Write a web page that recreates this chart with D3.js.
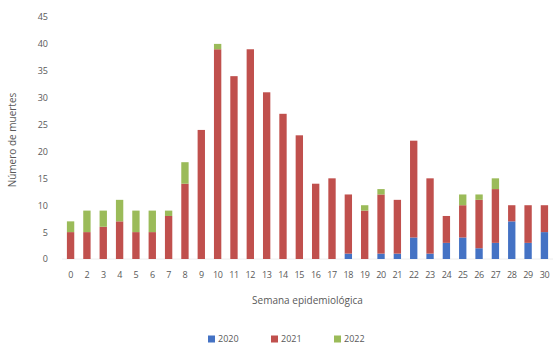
<!DOCTYPE html>
<html>
<head>
<meta charset="utf-8">
<script src="https://cdn.jsdelivr.net/npm/d3@7"></script>
<style>
  body { margin: 0; background: #fff; }
  text { font-family: "Open Sans", "Liberation Sans", sans-serif; fill: #595959; }
</style>
</head>
<body>
<div id="my_dataviz"></div>
<script>
// data
var weeks = ["0","2","3","4","5","6","7","8","9","10","11","12","13","14","15","16","17","18","19","20","21","22","23","24","25","26","27","28","29","30"];
var y2020 = [0,0,0,0,0,0,0,0,0,0,0,0,0,0,0,0,0,1,0,1,1,4,1,3,4,2,3,7,3,5];
var y2021 = [5,5,6,7,5,5,8,14,24,39,34,39,31,27,23,14,15,11,9,11,10,18,14,5,6,9,10,3,7,5];
var y2022 = [2,4,3,4,4,4,1,4,0,1,0,0,0,0,0,0,0,0,1,1,0,0,0,0,2,1,2,0,0,0];
var seriesNames = ["2020","2021","2022"];
var yTicks = [0,5,10,15,20,25,30,35,40,45];

var colors = d3.scaleOrdinal().domain(seriesNames).range(["#4472C4", "#C0504D", "#9BBB59"]);

var margin = {top: 17, right: 2, bottom: 89, left: 62},
    width = 555 - margin.left - margin.right,
    height = 348 - margin.top - margin.bottom;

var svg = d3.select("#my_dataviz")
  .append("svg")
    .attr("width", 555)
    .attr("height", 348)
  .append("g")
    .attr("transform", "translate(" + margin.left + "," + margin.top + ")");

var table = weeks.map(function(w, i) {
  return {week: w, "2020": y2020[i], "2021": y2021[i], "2022": y2022[i]};
});
var stacked = d3.stack().keys(seriesNames)(table);

var x = d3.scaleBand()
  .domain(weeks)
  .range([0, width])
  .paddingInner(0.55)
  .paddingOuter(0.3);

var y = d3.scaleLinear()
  .domain([0, 45])
  .range([height, 0]);

// baseline
svg.append("line")
  .attr("x1", 0).attr("x2", width)
  .attr("y1", y(0)).attr("y2", y(0))
  .attr("stroke", "#eeeeee");

// Y axis
var yaxis = svg.append("g")
  .attr("transform", "translate(-14,0)")
  .call(d3.axisLeft(y).tickValues(yTicks).tickSize(0).tickPadding(0));
yaxis.select(".domain").remove();
yaxis.selectAll("text").style("font-size", "9px").attr("fill", "#595959");

// X axis
var xaxis = svg.append("g")
  .attr("transform", "translate(0," + height + ")")
  .call(d3.axisBottom(x).tickSize(0).tickPadding(13));
xaxis.select(".domain").remove();
xaxis.selectAll("text").style("font-size", "9px").attr("fill", "#595959").attr("letter-spacing", "-0.4px");

// bars
svg.append("g")
  .selectAll("g")
  .data(stacked)
  .enter()
  .append("g")
    .attr("fill", function(d) { return colors(d.key); })
  .selectAll("rect")
  .data(function(d) { return d; })
  .enter()
  .append("rect")
    .attr("x", function(d) { return x(d.data.week); })
    .attr("y", function(d) { return y(d[1]); })
    .attr("height", function(d) { return y(d[0]) - y(d[1]); })
    .attr("width", x.bandwidth());

// axis titles
svg.append("text")
  .attr("x", width / 2)
  .attr("y", height + 45)
  .attr("text-anchor", "middle")
  .style("font-size", "10px")
  .text("Semana epidemiológica");

svg.append("text")
  .attr("transform", "rotate(-90)")
  .attr("x", -123)
  .attr("y", -46)
  .attr("text-anchor", "middle")
  .style("font-size", "10px")
  .text("Número de muertes");

// legend
var legend = svg.append("g")
  .attr("transform", "translate(" + (208 - margin.left) + "," + (height + 80) + ")");
var item = legend.selectAll("g")
  .data(seriesNames)
  .enter()
  .append("g")
    .attr("transform", function(d, i) { return "translate(" + (i * 63) + ",0)"; });
item.append("rect")
  .attr("width", 7).attr("height", 7)
  .attr("y", -3.5)
  .attr("fill", function(d) { return colors(d); });
item.append("text")
  .attr("x", 10)
  .attr("dy", "0.35em")
  .style("font-size", "9px")
  .text(function(d) { return d; });
</script>
</body>
</html>
